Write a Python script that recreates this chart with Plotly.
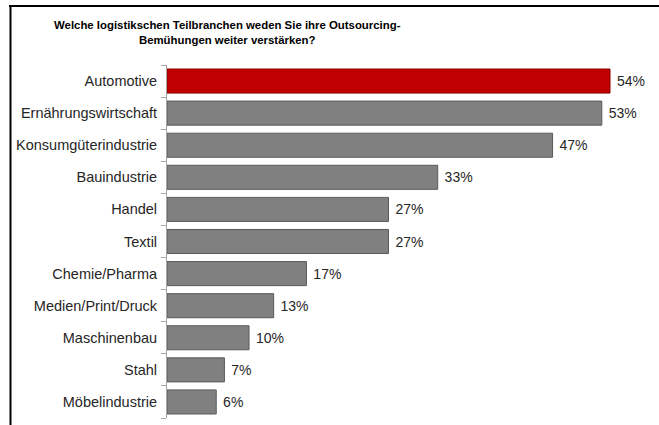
import plotly.graph_objects as go

# Survey answers: share of respondents per logistics sub-sector
categories = [
    "Automotive", "Ernährungswirtschaft", "Konsumgüterindustrie", "Bauindustrie",
    "Handel", "Textil", "Chemie/Pharma", "Medien/Print/Druck",
    "Maschinenbau", "Stahl", "Möbelindustrie",
]
values = [54, 53, 47, 33, 27, 27, 17, 13, 10, 7, 6]
value_labels = [f"\u00a0{v}%" for v in values]

W, H = 659, 425
L, R, T, B = 167, 0, 65, 7
plot_w = W - L - R
plot_h = H - T - B

def px_x(x):
    return (x - L) / plot_w

def px_y(y):
    return (H - B - y) / plot_h

colors = ["#C00000"] + ["#808080"] * (len(values) - 1)
edges = ["#8B0000"] + ["#5A5A5A"] * (len(values) - 1)

fig = go.Figure(
    go.Bar(
        x=values,
        y=categories,
        orientation="h",
        marker=dict(color=colors, line=dict(color=edges, width=1)),
        text=value_labels,
        textposition="outside",
        textfont=dict(family="Liberation Sans, Arial", size=14, color="#262626"),
        cliponaxis=False,
        width=0.75,
    )
)

fig.update_layout(
    width=W,
    height=H,
    margin=dict(l=L, r=R, t=T, b=B),
    paper_bgcolor="white",
    plot_bgcolor="white",
    showlegend=False,
    font=dict(family="Liberation Sans, Arial", size=14, color="#262626"),
    xaxis=dict(range=[0, plot_w / (443 / 54)], visible=False),
    yaxis=dict(
        categoryorder="array",
        categoryarray=categories[::-1],
        showline=True,
        linecolor="#A6A6A6",
        linewidth=1,
        ticks="outside",
        ticklen=5,
        tickcolor="#A6A6A6",
        tickson="boundaries",
        showgrid=False,
        ticklabelstandoff=6,
        tickfont=dict(size=14.5, color="#262626"),
    ),
    annotations=[
        dict(
            text="<b>Welche logistikschen Teilbranchen weden Sie ihre Outsourcing-<br>Bemühungen weiter verstärken?</b>",
            xref="paper", yref="paper",
            x=px_x(227), y=px_y(17),
            xanchor="center", yanchor="top",
            showarrow=False,
            align="center",
            font=dict(family="Liberation Sans, Arial", size=11.4, color="#000000"),
        )
    ],
    shapes=[
        dict(type="line", xref="paper", yref="paper",
             x0=px_x(9), x1=px_x(659), y0=px_y(6), y1=px_y(6),
             line=dict(color="#000000", width=2)),
        dict(type="line", xref="paper", yref="paper",
             x0=px_x(10.5), x1=px_x(10.5), y0=px_y(6), y1=px_y(425),
             line=dict(color="#000000", width=2)),
    ],
)

fig.write_html("out.html")
